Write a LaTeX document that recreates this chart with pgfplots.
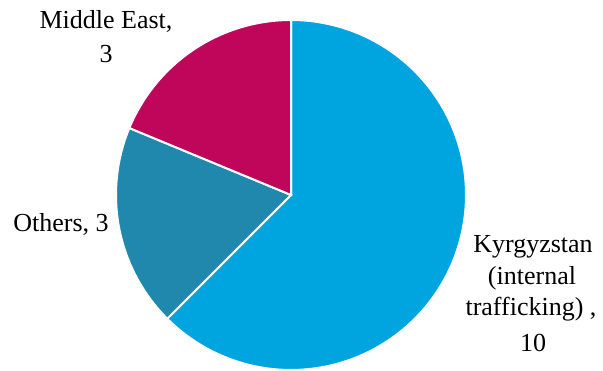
\documentclass[border=0pt]{standalone}
\usepackage{pgfplots}
\pgfplotsset{compat=1.18}
\usepackage{fontspec}
\setmainfont{Liberation Serif}
\definecolor{cK}{HTML}{00A4DE}
\definecolor{cO}{HTML}{2087AD}
\definecolor{cM}{HTML}{C0065A}
% slice values
\def\vK{10}
\def\vO{3}
\def\vM{3}
\pgfmathsetmacro\tot{\vK+\vO+\vM}
\pgfmathsetmacro\aK{90-360*\vK/\tot}
\pgfmathsetmacro\aO{\aK-360*\vO/\tot}
\pgfmathsetmacro\aM{\aO-360*\vM/\tot}
\tikzset{lbl/.style={anchor=base, inner sep=0pt, font=\fontsize{19.5}{24}\selectfont}}
\begin{document}
\begin{tikzpicture}
\begin{axis}[
  x=0.75pt, y=0.75pt,
  xmin=-291, xmax=312, ymin=-171, ymax=195,
  hide axis, scale only axis, clip=false,
]
\addplot[fill=cK, draw=white, line width=1.5pt, domain=\aK:90, samples=150, variable=\t] ({175*cos(\t)},{175*sin(\t)}) -- (axis cs:0,0) -- cycle;
\addplot[fill=cO, draw=white, line width=1.5pt, domain=\aO:\aK, samples=60, variable=\t] ({175*cos(\t)},{175*sin(\t)}) -- (axis cs:0,0) -- cycle;
\addplot[fill=cM, draw=white, line width=1.5pt, domain=\aM:\aO, samples=60, variable=\t] ({175*cos(\t)},{175*sin(\t)}) -- (axis cs:0,0) -- cycle;
\path (axis cs:-291,-171) rectangle (axis cs:312,195);
\node[lbl] at (axis cs:-185,166) {Middle East,};
\node[lbl] at (axis cs:-185,132) {3};
\node[lbl] at (axis cs:-230,-37) {Others, 3};
\node[lbl] at (axis cs:242,-58) {Kyrgyzstan};
\node[lbl] at (axis cs:241,-90) {(internal};
\node[lbl] at (axis cs:240,-121) {trafficking) ,};
\node[lbl] at (axis cs:242,-157) {10};
\end{axis}
\end{tikzpicture}
\end{document}
